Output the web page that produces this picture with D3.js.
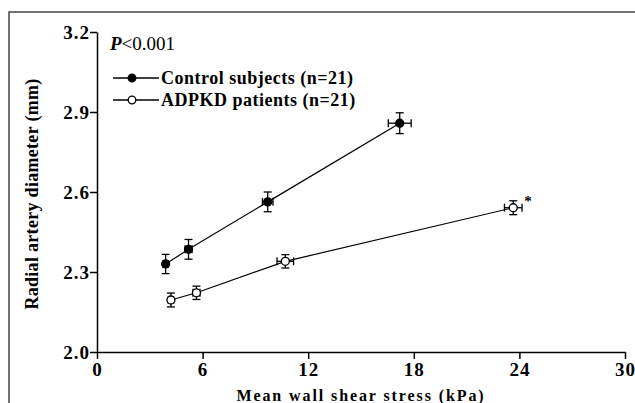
<!DOCTYPE html>
<html>
<head>
<meta charset="utf-8">
<script src="https://cdn.jsdelivr.net/npm/d3@7"></script>
<style>
  body { margin: 0; background: #fff; }
  text { font-family: "Liberation Serif", "Times New Roman", serif; }
</style>
</head>
<body>
<div id="chart"></div>
<script>
// Control subjects
const ctrlX = [3.9, 5.2, 9.7, 17.2];
const ctrlXErr = [0.15, 0.2, 0.3, 0.65];
const ctrlY = [2.33, 2.385, 2.563, 2.858];
const ctrlYErr = [0.036, 0.037, 0.037, 0.039];

// ADPKD patients
const adpkdX = [4.2, 5.65, 10.7, 23.65];
const adpkdXErr = [0.15, 0.2, 0.47, 0.5];
const adpkdY = [2.195, 2.222, 2.34, 2.541];
const adpkdYErr = [0.026, 0.025, 0.025, 0.026];

const xTicks = [0, 6, 12, 18, 24, 30];
const yTicks = [2.0, 2.3, 2.6, 2.9, 3.2];
const seriesNames = ["Control subjects (n=21)", "ADPKD patients (n=21)"];

const width = 635, height = 403;

const svg = d3.select("#chart").append("svg")
  .attr("width", width)
  .attr("height", height);

// frame around the figure (cut off at right and bottom)
svg.append("rect")
  .attr("x", 9).attr("y", 12)
  .attr("width", 700).attr("height", 500)
  .attr("fill", "none")
  .attr("stroke", "#444")
  .attr("stroke-width", 1.5);

const x = d3.scaleLinear().domain([0, 30]).range([97, 625]);
const y = d3.scaleLinear().domain([2.0, 3.2]).range([352, 32]);

const xAxis = svg.append("g")
  .attr("transform", `translate(0,${y(2.0)})`)
  .call(d3.axisBottom(x).tickValues(xTicks).tickSize(7).tickSizeOuter(0).tickPadding(4));

const yAxis = svg.append("g")
  .attr("transform", `translate(${x(0)},0)`)
  .call(d3.axisLeft(y).tickValues(yTicks).tickFormat(d3.format(".1f")).tickSize(7).tickSizeOuter(0).tickPadding(0));

[xAxis, yAxis].forEach(a => {
  a.selectAll("path, line").attr("stroke", "#000").attr("stroke-width", 1.5);
  a.selectAll("text")
    .attr("fill", "#000")
    .style("font-size", "19px")
    .style("font-weight", "bold")
    .style("letter-spacing", "1px");
});

// axis titles
svg.append("text")
  .attr("x", 361).attr("y", 401)
  .attr("text-anchor", "middle")
  .style("font-size", "16px").style("font-weight", "bold")
  .style("letter-spacing", "1.9px")
  .text("Mean wall shear stress (kPa)");

svg.append("text")
  .attr("transform", "translate(38,194) rotate(-90)")
  .attr("text-anchor", "middle")
  .style("font-size", "18px").style("font-weight", "bold")
  .style("letter-spacing", "0.3px")
  .text("Radial artery diameter (mm)");

// P value
const pText = svg.append("text").attr("x", 110).attr("y", 50).style("font-size", "19px");
pText.append("tspan").style("font-weight", "bold").style("font-style", "italic").text("P");
pText.append("tspan").text("<0.001");

const series = [
  { name: seriesNames[0], fill: "#000", pts: ctrlX.map((v, i) => ({ x: v, xe: ctrlXErr[i], y: ctrlY[i], ye: ctrlYErr[i] })) },
  { name: seriesNames[1], fill: "#fff", pts: adpkdX.map((v, i) => ({ x: v, xe: adpkdXErr[i], y: adpkdY[i], ye: adpkdYErr[i] })) }
];

const line = d3.line().x(d => x(d.x)).y(d => y(d.y));
const cap = 4;

series.forEach(s => {
  const g = svg.append("g");
  g.append("path")
    .attr("d", line(s.pts))
    .attr("fill", "none")
    .attr("stroke", "#000")
    .attr("stroke-width", 1.2);

  const eb = g.selectAll(".eb").data(s.pts).join("g")
    .attr("stroke", "#000").attr("stroke-width", 1.3);
  // vertical error bars
  eb.append("line")
    .attr("x1", d => x(d.x)).attr("x2", d => x(d.x))
    .attr("y1", d => y(d.y - d.ye)).attr("y2", d => y(d.y + d.ye));
  eb.append("line")
    .attr("x1", d => x(d.x) - cap).attr("x2", d => x(d.x) + cap)
    .attr("y1", d => y(d.y + d.ye)).attr("y2", d => y(d.y + d.ye));
  eb.append("line")
    .attr("x1", d => x(d.x) - cap).attr("x2", d => x(d.x) + cap)
    .attr("y1", d => y(d.y - d.ye)).attr("y2", d => y(d.y - d.ye));
  // horizontal error bars
  eb.append("line")
    .attr("x1", d => x(d.x - d.xe)).attr("x2", d => x(d.x + d.xe))
    .attr("y1", d => y(d.y)).attr("y2", d => y(d.y));
  eb.append("line")
    .attr("x1", d => x(d.x - d.xe)).attr("x2", d => x(d.x - d.xe))
    .attr("y1", d => y(d.y) - cap).attr("y2", d => y(d.y) + cap);
  eb.append("line")
    .attr("x1", d => x(d.x + d.xe)).attr("x2", d => x(d.x + d.xe))
    .attr("y1", d => y(d.y) - cap).attr("y2", d => y(d.y) + cap);

  g.selectAll("circle").data(s.pts).join("circle")
    .attr("cx", d => x(d.x)).attr("cy", d => y(d.y))
    .attr("r", 4)
    .attr("fill", s.fill)
    .attr("stroke", "#000").attr("stroke-width", 1.3);
});

// significance marker on the last ADPKD point
const last = series[1].pts[series[1].pts.length - 1];
svg.append("text")
  .attr("x", x(last.x) + 11).attr("y", y(last.y) - 2)
  .style("font-size", "15px").style("font-weight", "bold")
  .text("*");

// legend
const legend = svg.append("g");
series.forEach((s, i) => {
  const ly = 78 + i * 22;
  legend.append("line")
    .attr("x1", 113).attr("x2", 159).attr("y1", ly).attr("y2", ly)
    .attr("stroke", "#000").attr("stroke-width", 1.3);
  legend.append("circle")
    .attr("cx", 132).attr("cy", ly).attr("r", 3.8)
    .attr("fill", s.fill).attr("stroke", "#000").attr("stroke-width", 1.3);
  legend.append("text")
    .attr("x", 161).attr("y", ly + 6)
    .style("font-size", "18px").style("font-weight", "bold")
    .style("letter-spacing", "0.5px")
    .text(s.name);
});
</script>
</body>
</html>
